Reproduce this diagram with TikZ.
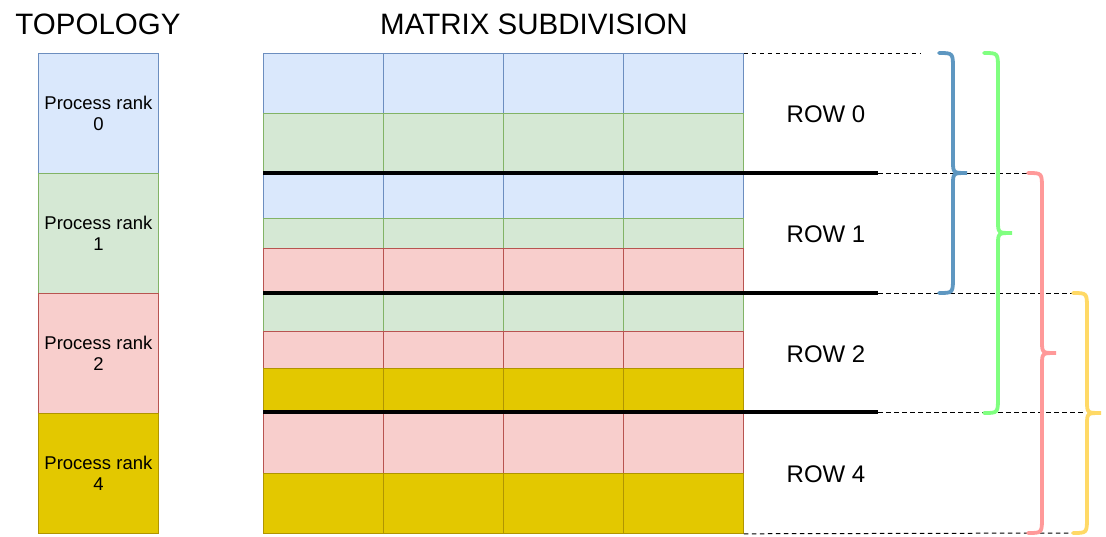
\documentclass[tikz,border=0pt]{standalone}
\usepackage{fontspec}
\setmainfont{Liberation Sans}
\usetikzlibrary{positioning}
\definecolor{blueFill}{HTML}{DAE8FC}
\definecolor{blueLine}{HTML}{6C8EBF}
\definecolor{greenFill}{HTML}{D5E8D4}
\definecolor{greenLine}{HTML}{82B366}
\definecolor{redFill}{HTML}{F8CECC}
\definecolor{redLine}{HTML}{B85450}
\definecolor{yellowFill}{HTML}{E3C800}
\definecolor{yellowLine}{HTML}{B09500}
\definecolor{braceBlue}{HTML}{5E97C1}
\definecolor{braceGreen}{HTML}{80FF80}
\definecolor{braceRed}{HTML}{FF9999}
\definecolor{braceYellow}{HTML}{FFD966}

\begin{document}
\begin{tikzpicture}[
  x=1pt, y=-1pt,
  cell/.style={
    rectangle, draw, line width=0.8pt, inner sep=0pt,
    minimum width=120pt, anchor=north west
  },
  blueblk/.style={cell, fill=blueFill, draw=blueLine},
  greenblk/.style={cell, fill=greenFill, draw=greenLine},
  redblk/.style={cell, fill=redFill, draw=redLine},
  yellowblk/.style={cell, fill=yellowFill, draw=yellowLine},
  ranklabel/.style={align=center, font=\fontsize{18.5}{21}\selectfont},
  title/.style={anchor=base, font=\fontsize{29.5}{34}\selectfont},
  rowlabel/.style={anchor=base, font=\fontsize{24}{28}\selectfont},
  split/.style={line width=3.8pt},
  guide/.style={line width=1pt, dash pattern=on 4.5pt off 3.5pt},
  bracket/.style={line width=3.8pt, line cap=round}
]
  \useasboundingbox (0,0) rectangle (1106,536);

  % titles
  \node[title] (toptitle) at (98,34) {TOPOLOGY};
  \node[title] (mattitle) at (534,34) {MATRIX SUBDIVISION};

  % topology column
  \foreach \rk/\kind [count=\i from 0] in {0/blue, 1/green, 2/red, 4/yellow} {
    \node[\kind blk, minimum height=120pt] (rank\rk) at (38,{53+120*\i}) {};
    \node[ranklabel] at (rank\rk) {Process rank\\\rk};
  }

  % matrix strips
  \foreach \ytop/\h/\kind [count=\r] in {53/60/blue, 113/60/green,
      173/45/blue, 218/30/green, 248/45/red,
      293/38/green, 331/37/red, 368/45/yellow,
      413/60/red, 473/60/yellow}
    \foreach \c in {0,...,3}
      \node[\kind blk, minimum height=\h pt] (cell-\r-\c) at ({263+120*\c},\ytop) {};

  % row labels
  \node[rowlabel] (row0) at (826,122) {ROW 0};
  \node[rowlabel] (row1) at (826,242) {ROW 1};
  \node[rowlabel] (row2) at (826,362) {ROW 2};
  \node[rowlabel] (row4) at (826,482) {ROW 4};

  % row boundaries
  \draw[split] (cell-3-0.north west) -- (878,173);
  \draw[split] (cell-6-0.north west) -- (878,293);
  \draw[split] (263,412) -- (878,412);

  % guides to the brackets
  \draw[guide] (cell-1-3.north east) -- (920,53);
  \draw[guide] (878,173) -- (1030,173);
  \draw[guide] (878,293) -- (1075,293);
  \draw[guide] (878,412) -- (1085,412);
  \draw[guide] (cell-10-3.south east) -- (1075,533);

  % brackets
  \foreach \bx/\ya/\yb/\ym/\col in {939/53/293/173/braceBlue,
      984/53/413/233/braceGreen, 1028/173/533/353/braceRed,
      1073/293/533/413/braceYellow}
    \draw[bracket, draw=\col] (\bx,\ya) .. controls ({\bx+14},\ya) .. ({\bx+14},{\ya+16})
      -- ({\bx+14},{\ym-12}) .. controls ({\bx+14},\ym) .. ({\bx+28},\ym)
      .. controls ({\bx+14},\ym) .. ({\bx+14},{\ym+12})
      -- ({\bx+14},{\yb-16}) .. controls ({\bx+14},\yb) .. (\bx,\yb);

\end{tikzpicture}
\end{document}
